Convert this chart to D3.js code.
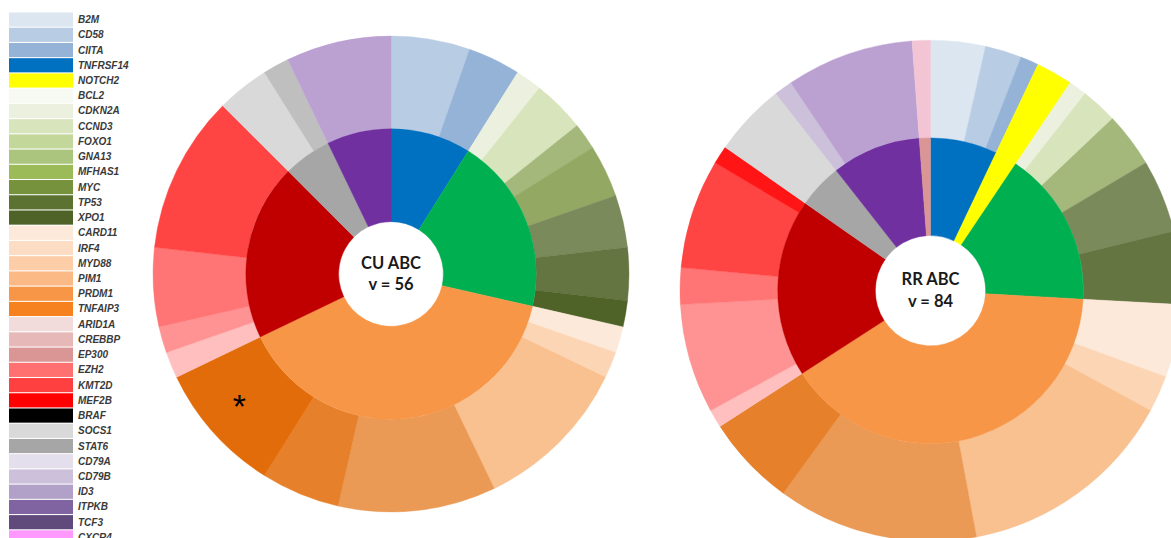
<!DOCTYPE html>
<html>
<head>
<meta charset="utf-8">
<script src="https://cdn.jsdelivr.net/npm/d3@7"></script>
<style>
  html, body { margin: 0; padding: 0; background: #fff; }
  svg { display: block; }
</style>
</head>
<body>
<svg id="chart" width="1171" height="538"></svg>
<script>
// ---------------- DATA ----------------
const legendGenes = ["B2M","CD58","CIITA","TNFRSF14","NOTCH2","BCL2","CDKN2A","CCND3","FOXO1","GNA13","MFHAS1","MYC","TP53","XPO1","CARD11","IRF4","MYD88","PIM1","PRDM1","TNFAIP3","ARID1A","CREBBP","EP300","EZH2","KMT2D","MEF2B","BRAF","SOCS1","STAT6","CD79A","CD79B","ID3","ITPKB","TCF3","CXCR4"];

// CU ABC (v = 56)
const cuGroups = ["Immune","Cell cycle","NF-kB","Epigenetic","JAK-STAT","BCR"];
const cuGroupCounts = [5, 11, 22, 11, 3, 4];
const cuGenes = ["CD58","CIITA","CDKN2A","CCND3","GNA13","MFHAS1","MYC","TP53","XPO1","CARD11","IRF4","MYD88","PIM1","PRDM1","TNFAIP3","ARID1A","CREBBP","EZH2","KMT2D","SOCS1","STAT6","ID3"];
const cuGeneCounts = [3, 2, 1, 2, 1, 2, 2, 2, 1, 1, 1, 6, 6, 3, 5, 1, 1, 3, 6, 2, 1, 4];

// RR ABC (v = 84)
const rrGroups = ["Immune","NOTCH","Cell cycle","NF-kB","Epigenetic","JAK-STAT","BCR","Other"];
const rrGroupCounts = [6, 2, 14, 34, 16, 4, 8, 1];
const rrGenes = ["B2M","CD58","CIITA","NOTCH2","CDKN2A","CCND3","GNA13","MYC","TP53","CARD11","IRF4","MYD88","PIM1","PRDM1","ARID1A","CREBBP","EZH2","KMT2D","MEF2B","SOCS1","CD79B","ID3","Other"];
const rrGeneCounts = [3, 2, 1, 2, 1, 2, 3, 4, 4, 4, 2, 12, 11, 5, 1, 6, 2, 6, 1, 4, 1, 7, 1];

const panelTitles = ["CU ABC", "RR ABC"];
const panelN = [56, 84];
const starredGene = "TNFAIP3";

// ---------------- STYLES ----------------
const legendColors = {
  B2M:"#DCE6F1", CD58:"#B8CCE4", CIITA:"#95B3D7", TNFRSF14:"#0070C0", NOTCH2:"#FFFF00",
  BCL2:"#F7FAF2", CDKN2A:"#EBF1DE", CCND3:"#D8E4BC", FOXO1:"#C4D79B", GNA13:"#ABC57F",
  MFHAS1:"#9BBB59", MYC:"#76923C", TP53:"#5C7230", XPO1:"#4F6228",
  CARD11:"#FDE9D9", IRF4:"#FDDCC4", MYD88:"#FCCDA6", PIM1:"#FAB985", PRDM1:"#F79646", TNFAIP3:"#F6821F",
  ARID1A:"#F2DCDB", CREBBP:"#E6B8B7", EP300:"#DA9694", EZH2:"#FF7070", KMT2D:"#FF4040", MEF2B:"#FF0000",
  BRAF:"#000000", SOCS1:"#D9D9D9", STAT6:"#A6A6A6",
  CD79A:"#E4DFEC", CD79B:"#CCC0DA", ID3:"#B1A0C7", ITPKB:"#8064A2", TCF3:"#604A7B", CXCR4:"#FF99FF"
};
const geneColors = {
  B2M:"#DCE6F1", CD58:"#B8CCE4", CIITA:"#95B3D7", NOTCH2:"#FFFF00",
  CDKN2A:"#EBF1DE", CCND3:"#D8E4BC", GNA13:"#A5B87B", MFHAS1:"#93A862", MYC:"#7B8A5A", TP53:"#657542", XPO1:"#4F6228",
  CARD11:"#FDE9D9", IRF4:"#FCD5B4", MYD88:"#F9C090", PIM1:"#EB9A55", PRDM1:"#E6802A", TNFAIP3:"#E36C0A",
  ARID1A:"#FFBFBF", CREBBP:"#FF9393", EZH2:"#FF7575", KMT2D:"#FF4444", MEF2B:"#FF1515",
  SOCS1:"#D9D9D9", STAT6:"#BFBFBF", CD79B:"#CCC0DA", ID3:"#BBA0D2", Other:"#F2C4D4"
};
const groupColors = {
  "Immune":"#0070C0", "NOTCH":"#FFFF00", "Cell cycle":"#00B050", "NF-kB":"#F79646",
  "Epigenetic":"#C00000", "JAK-STAT":"#A6A6A6", "BCR":"#7030A0", "Other":"#D99694"
};

// ---------------- DRAW ----------------
const svg = d3.select("#chart");

// Legend
const legendY = d3.scaleBand().domain(legendGenes).range([12.5, 12.5 + 15.2 * legendGenes.length]).paddingInner(0.07).paddingOuter(0);
const lg = svg.append("g");
const lrow = lg.selectAll("g").data(legendGenes).join("g")
  .attr("transform", d => `translate(0,${legendY(d)})`);
lrow.append("rect").attr("x", 9).attr("width", 64).attr("height", legendY.bandwidth())
  .attr("fill", d => legendColors[d]);
lrow.append("text").attr("x", 78).attr("y", legendY.bandwidth() / 2)
  .attr("dy", "0.35em")
  .style("font-family", "'Liberation Sans', Arial, sans-serif")
  .style("font-style", "italic").style("font-weight", "bold")
  .style("font-size", "10px").attr("fill", "#3a3a3a")
  .text(d => d);

// Double doughnuts
const panels = [
  { cx: 391, cy: 274, R: 238, groups: cuGroups, gCounts: cuGroupCounts, genes: cuGenes, nCounts: cuGeneCounts },
  { cx: 930.5, cy: 290.7, R: 250.5, groups: rrGroups, gCounts: rrGroupCounts, genes: rrGenes, nCounts: rrGeneCounts }
];
const pie = d3.pie().sort(null).value(d => d.v);

panels.forEach((p, i) => {
  const g = svg.append("g").attr("transform", `translate(${p.cx},${p.cy})`);
  const rHole = p.R * 0.22, rMid = p.R * 0.61;
  const innerArc = d3.arc().innerRadius(rHole).outerRadius(rMid);
  const outerArc = d3.arc().innerRadius(rMid).outerRadius(p.R);

  const inner = pie(p.groups.map((k, j) => ({ k, v: p.gCounts[j] })));
  const outer = pie(p.genes.map((k, j) => ({ k, v: p.nCounts[j] })));

  g.append("g").selectAll("path").data(outer).join("path")
    .attr("d", outerArc).attr("fill", d => geneColors[d.data.k])
    .attr("stroke", d => geneColors[d.data.k]).attr("stroke-width", 0.4);
  g.append("g").selectAll("path").data(inner).join("path")
    .attr("d", innerArc).attr("fill", d => groupColors[d.data.k])
    .attr("stroke", d => groupColors[d.data.k]).attr("stroke-width", 0.4);

  const t = g.append("g")
    .style("font-family", "Lato, 'Liberation Sans', sans-serif").style("font-weight", "bold")
    .style("font-size", "16.5px").attr("fill", "#1a1a1a").attr("text-anchor", "middle");
  t.append("text").attr("y", -5.5).text(panelTitles[i]);
  t.append("text").attr("y", 16).text(`v = ${panelN[i]}`);

  const seg = outer.find(d => d.data.k === starredGene);
  if (seg) {
    const ang = seg.startAngle + (seg.endAngle - seg.startAngle) * 0.56;
    const rr = p.R * 0.83;
    g.append("text")
      .attr("x", Math.sin(ang) * rr)
      .attr("y", -Math.cos(ang) * rr)
      .attr("dy", "0.5em")
      .attr("text-anchor", "middle")
      .style("font-family", "'Liberation Sans', Arial, sans-serif")
      .style("font-size", "34px").attr("fill", "#000").text("*");
  }
});
</script>
</body>
</html>
